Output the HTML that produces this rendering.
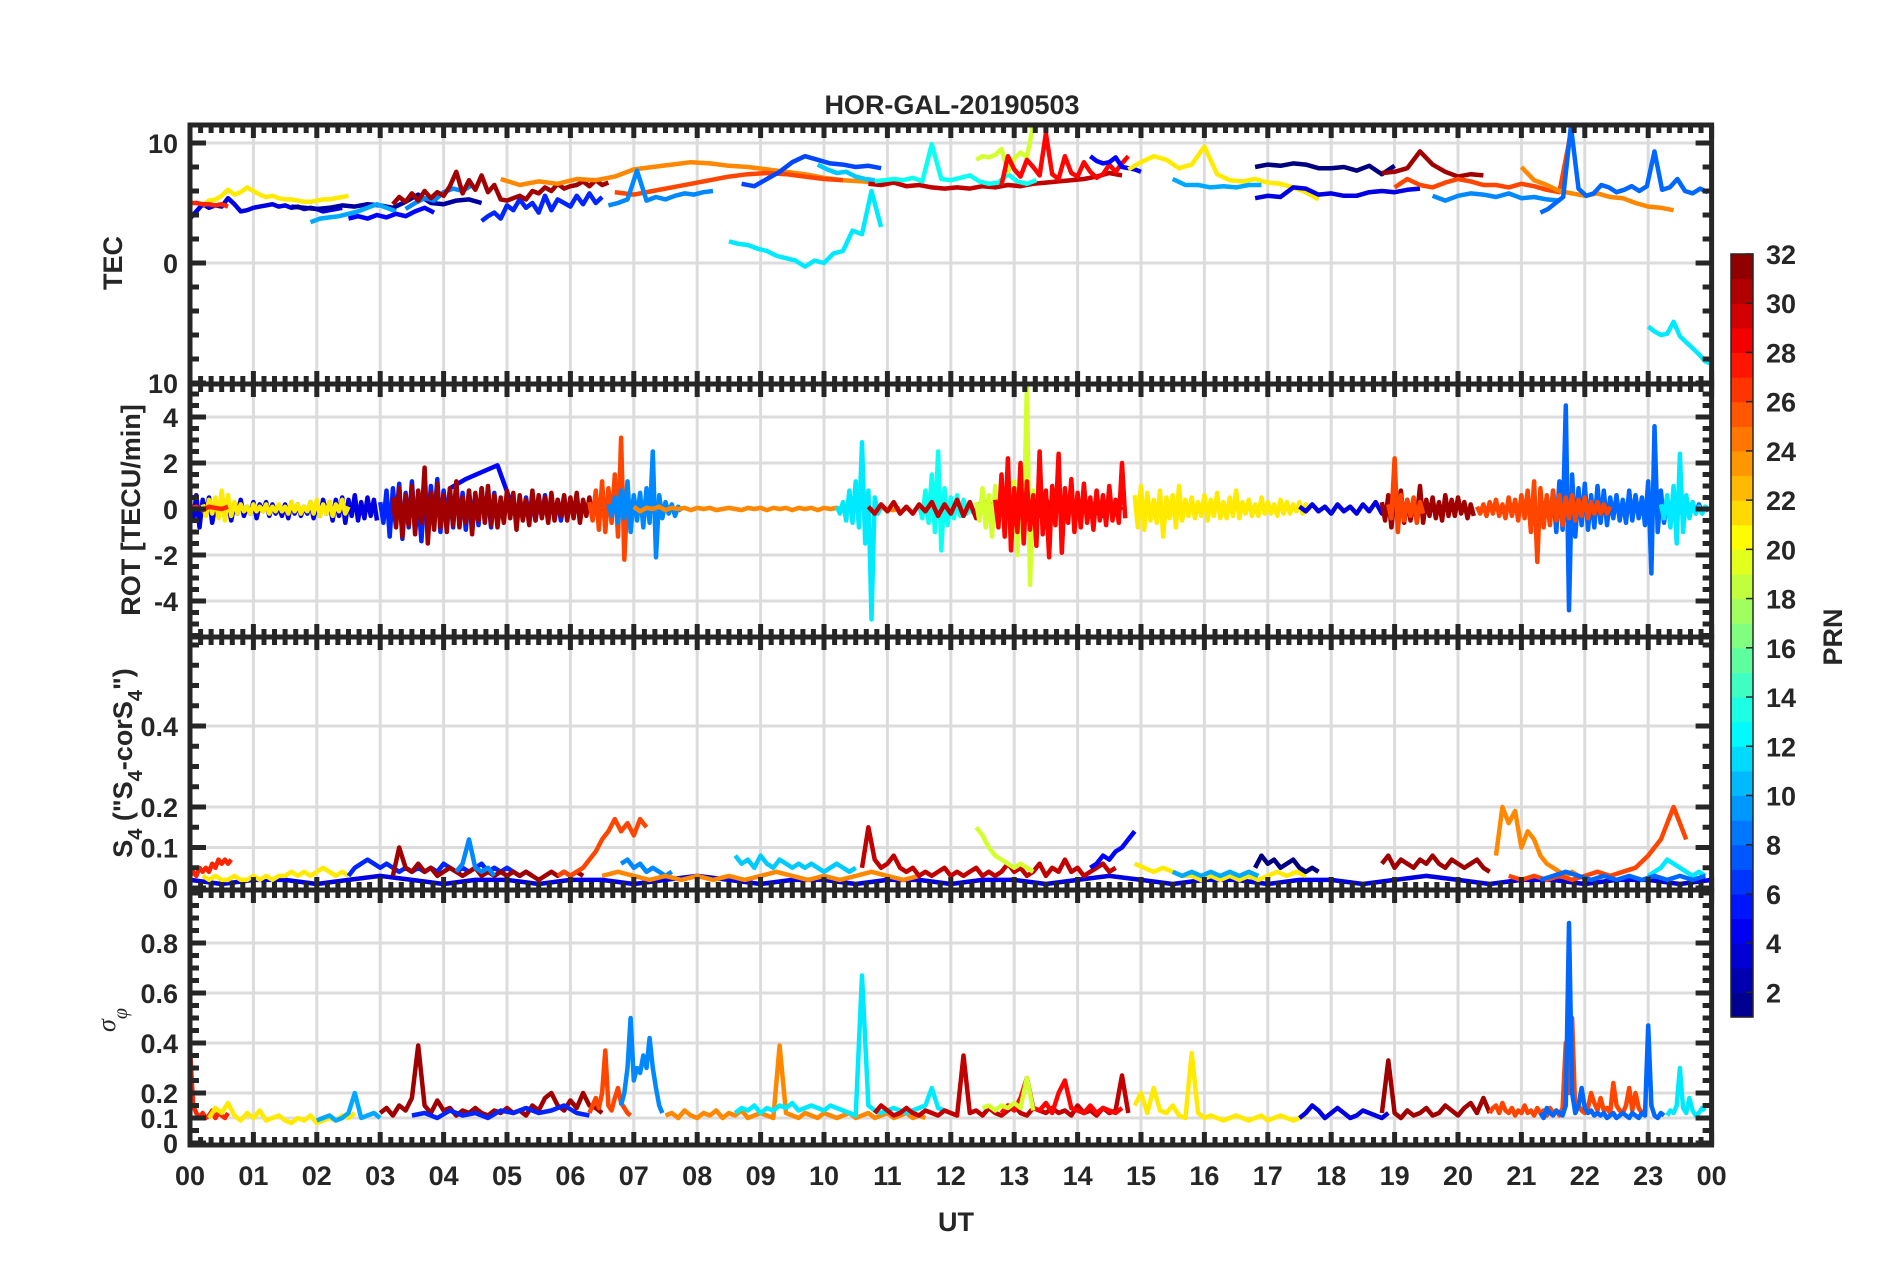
<!DOCTYPE html>
<html><head><meta charset="utf-8"><title>HOR-GAL-20190503</title>
<style>
html,body{margin:0;padding:0;background:#fff;}
svg{display:block;font-family:"Liberation Sans",Arial,sans-serif;}
</style></head>
<body>
<svg id="chart" width="1902" height="1272" viewBox="0 0 1902 1272" xmlns="http://www.w3.org/2000/svg">
<rect width="1902" height="1272" fill="#fff"/>
<text x="952" y="114" text-anchor="middle" font-weight="bold" font-size="27" fill="#262626">HOR-GAL-20190503</text>
<text x="956" y="1231" text-anchor="middle" font-weight="bold" font-size="27" fill="#262626">UT</text>
<text transform="translate(122,263) rotate(-90)" text-anchor="middle" font-weight="bold" font-size="27" fill="#262626">TEC</text>
<text transform="translate(140,510) rotate(-90)" text-anchor="middle" font-weight="bold" font-size="27" fill="#262626">ROT [TECU/min]</text>
<text transform="translate(132,763) rotate(-90)" text-anchor="middle" font-weight="bold" font-size="27" fill="#262626">S<tspan dy="10" font-size="20">4</tspan><tspan dy="-10"> ("S</tspan><tspan dy="10" font-size="20">4</tspan><tspan dy="-10">-corS</tspan><tspan dy="10" font-size="20">4</tspan><tspan dy="-10">")</tspan></text>
<text transform="translate(115,1020) rotate(-90)" text-anchor="middle" font-style="italic" font-size="26" fill="#262626" font-family="Liberation Serif, serif">σ<tspan dy="12" font-size="20">φ</tspan></text>
<text transform="translate(1842,637) rotate(-90)" text-anchor="middle" font-weight="bold" font-size="27" fill="#262626">PRN</text>
<g id="layers"></g>
</svg>
<script>
// ---------- TEC data ----------
const tecPrn=[4,21,27,2,10,9,5,6,31,24,26,9,7,12,11,30,13,19,28,5,21,10,1,4,31,26,9,24,8,12];
const tecT0=[0,0.2,0,1.6,1.9,3.4,2.5,4.6,3.2,4.9,6.7,6.6,8.7,8.5,9.9,10.7,10.8,12.4,12.8,14.2,14.8,15.5,16.8,16.8,18.8,19.0,19.6,21.0,21.3,23.0];
const tecDt=[0.1,0.1,0.1,0.2,0.15,0.15,0.15,0.1,0.1,0.3,0.3,0.15,0.2,0.15,0.15,0.2,0.15,0.1,0.1,0.1,0.2,0.2,0.2,0.2,0.2,0.2,0.2,0.2,0.12,0.1];
const tecVals=[
[3.7,4.3,4.9,4.6,4.8,4.7,5.4,4.9,4.3,4.4,4.6,4.7,4.8,4.9,4.7,4.8,4.6,4.7,4.5,4.6,4.5,4.3,4.4,4.5,4.6],
[4.8,5.2,5.3,5.6,6.1,5.7,5.9,6.3,6.0,5.7,5.5,5.6,5.4,5.3,5.3,5.2,5.1,5.1,5.2,5.3,5.3,5.4,5.5,5.6],
[5.0,5.0,4.9,4.9,4.8,4.9,4.7],
[4.7,4.6,4.5,4.6,4.8,4.7,4.9,4.8,4.6,5.1,5.7,5.0,4.9,5.2,5.3,5.0],
[3.4,3.7,3.8,3.9,4.1,4.3,4.6,4.9,4.6,4.3],
[4.5,5.0,5.4,5.2,5.9,6.2,6.0,6.5],
[3.7,3.9,3.7,4.0,3.8,4.1,3.9,4.3,4.6,4.2],
[3.5,3.9,4.2,3.7,4.8,4.4,5.3,4.6,5.0,4.2,5.6,4.4,5.3,5.0,4.7,5.6,4.9,5.8,5.0,5.5],
[4.9,5.5,5.1,5.8,5.2,6.0,5.4,5.9,5.6,6.4,7.6,5.8,6.9,6.1,7.3,5.9,6.5,5.3,5.2,5.4,5.6,5.3,6.0,5.8,6.3,6.0,6.6,6.2,6.4,6.5,6.8,6.4,6.9,6.5,6.7],
[7.0,6.5,6.8,6.6,7.0,6.9,7.2,7.8,8.0,8.2,8.4,8.3,8.1,8.0,7.8,7.6,7.4,7.1,6.9,6.8,6.7],
[5.9,5.7,6.0,6.3,6.6,6.9,7.2,7.4,7.5,7.4,7.2,7.0,6.9],
[4.8,5.0,5.3,7.7,5.2,5.5,5.3,5.6,5.8,5.7,5.9,6.0],
[6.6,6.4,7.0,7.6,8.4,8.9,8.6,8.3,8.2,8.0,8.1,7.9],
[1.8,1.6,1.5,1.2,1.0,0.6,0.4,0.2,-0.3,0.2,0.0,0.8,1.0,2.7,2.4,6.0,3.0],
[8.2,7.8,7.5,7.6,7.2,7.0,6.9],
[6.6,6.5,6.7,6.4,6.5,6.3,6.2,6.3,6.2,6.4,6.3,6.5,6.4,6.6,6.7,6.8,6.9,7.0,7.2,7.5,7.3],
[6.8,6.9,7.0,6.9,7.1,6.8,9.9,7.0,6.9,7.1,7.3,6.8,6.6,6.7,7.4,6.8,6.6,6.9],
[8.6,8.9,8.8,9.0,9.5,7.6,8.7,9.2,8.8,11.5],
[6.5,8.9,7.8,7.2,8.6,8.0,7.3,10.8,7.4,7.0,8.9,7.5,7.2,8.4,7.6,7.1,7.4,8.2,7.6,8.3,8.9],
[8.9,8.5,8.3,8.4,8.8,8.0,7.9,7.8,7.6],
[7.8,8.4,8.9,8.6,7.9,8.2,9.7,7.4,6.9,6.8,7.0,6.7,6.6,6.3,5.9,5.3],
[7.0,6.5,6.5,6.3,6.4,6.3,6.5,6.5],
[8.0,8.2,8.1,8.3,8.2,7.9,7.9,8.0,7.7,8.1,7.4,8.1],
[5.4,5.6,5.5,6.3,6.2,5.7,5.8,5.6,5.6,5.9,6.0,5.9,6.1,6.2],
[7.5,7.6,7.9,9.3,8.2,7.6,7.2,7.4,7.3],
[6.3,7.0,6.5,6.3,6.7,7.0,6.8,6.5,6.5,6.3,6.6,6.4,6.1,5.9,11.4],
[5.6,5.2,5.6,5.8,5.7,5.5,5.8,5.4,5.5,5.3,5.2],
[8.0,6.9,6.5,6.0,5.8,5.6,5.8,5.5,5.4,5.0,4.7,4.6,4.4],
[4.2,4.5,5.0,5.5,11.4,6.2,5.6,5.8,6.5,6.3,5.9,6.1,6.4,6.0,6.4,9.3,6.1,6.3,7.0,6.0,5.8,6.2,5.9],
[-5.3,-5.7,-6.0,-5.9,-4.9,-6.1,-6.6,-7.1,-7.6,-8.2,-8.4]
];
// ---------- ROT data ----------
const rotPrn=[4,21,27,6,5,31,26,9,24,12,13,30,19,28,21,4,31,26,8,26,12];
const rotT0=[0,0.2,0,3.0,4.1,3.2,6.3,6.6,7.0,10.2,11.5,10.7,12.4,12.7,14.9,17.5,18.8,18.9,21.3,20.3,23.2];
const rotDt=[0.05,0.05,0.1,0.05,0.25,0.05,0.05,0.05,0.1,0.05,0.05,0.1,0.05,0.05,0.05,0.1,0.05,0.05,0.05,0.05,0.05];
const rotVals=[
[0.3,-0.5,0.6,-0.8,0.4,-0.2,0.5,-0.6,0.2,-0.3,0.7,-0.4,0.3,-0.5,0.2,-0.2,0.4,-0.3,0.1,-0.2,0.3,-0.4,0.2,-0.1,0.3,-0.3,0.2,-0.2,0.1,-0.3,0.2,-0.4,0.3,-0.2,0.2,-0.3,0.1,-0.2,0.3,-0.4,0.2,-0.3,0.4,-0.2,0.3,-0.5,0.4,-0.3,0.5,-0.6,0.4,-0.3,0.6,-0.5,0.3,-0.4,0.5,-0.3,0.4,-0.5],
[0.2,-0.3,0.4,-0.2,0.5,-0.4,0.8,-0.5,0.6,-0.3,0.3,-0.2,0.2,-0.1,0.1,-0.2,0.2,-0.1,0.1,-0.1,0.2,-0.2,0.1,-0.1,0.2,-0.1,0.1,-0.2,0.3,-0.1,0.2,-0.2,0.1,-0.1,0.3,-0.2,0.4,-0.3,0.2,-0.2,0.3,-0.3,0.2,-0.1,0.4,-0.2,0.1],
[0.05,0.1,-0.05,0.1,0.05,0,0.1],
[0.3,-0.6,0.8,-1.2,0.9,-0.5,1.1,-1.3,0.7,-0.8,1.2,-0.9,0.5,-1.4,0.9,-0.7,1.0,-0.6,1.3,-1.0,0.8,-0.5,0.9,-0.8,1.0,-0.6,0.7,-0.9,0.8,-0.5,0.6,-0.7,0.9,-0.4,0.5,-0.8,0.7,-0.6,0.4,-0.5,0.6,-0.3,0.5,-0.6,0.4,-0.3,0.5,-0.4,0.3,-0.5,0.4,-0.3,0.6,-0.4,0.5,-0.3,0.4,-0.5,0.3,-0.2],
[0.9,1.3,1.6,1.9,0.0],
[0.5,-0.8,0.9,-1.2,0.6,-0.7,1.0,-1.1,0.8,-0.6,1.8,-1.5,0.7,-0.9,1.1,-0.8,0.6,-1.0,0.9,-0.7,1.2,-0.8,0.5,-0.6,0.8,-1.1,0.7,-0.5,0.9,-0.6,1.0,-0.7,0.6,-0.8,0.5,-0.6,0.8,-0.4,0.7,-0.9,0.6,-0.5,0.4,-0.7,0.8,-0.5,0.6,-0.4,0.5,-0.6,0.7,-0.5,0.4,-0.3,0.6,-0.5,0.5,-0.4,0.7,-0.6,0.4,-0.3,0.5,-0.4,0.6,-0.5,0.3,-0.4],
[0.3,-0.5,0.8,-0.9,1.2,-1.0,0.9,-0.6,1.5,-1.2,3.1,-2.2,0.6,-0.4,0.5,-0.3,0.4,-0.5,0.3,-0.2,0.2,-0.1,0.2,-0.2],
[0.2,-0.3,0.5,-0.6,0.8,-0.4,1.2,-1.0,0.6,-0.5,0.7,-0.8,0.9,-0.6,2.5,-2.1,0.6,-0.4,0.3,-0.2,0.2,-0.3,0.1,-0.1],
[0.1,-0.1,0.05,0,0.1,-0.05,0.05,0,0.05,-0.05,0.05,0,0.05,-0.05,0,0.05,0,-0.05,0.05,0,0.05,-0.05,0.05,0,0.05,-0.05,0.05,0,0.05,-0.05,0.05,0,0.05,-0.05,0.05,0,0.05,-0.05,0,0.05,0,-0.05,0.05],
[0.1,-0.2,0.3,-0.5,0.8,-0.6,1.2,-0.8,2.9,-1.5,0.8,-4.8,0.5,-0.2,0.1],
[0.2,-0.4,0.8,-0.6,1.5,-1.0,2.5,-1.8,0.9,-0.7,0.5,-0.4,0.6,-0.3,0.4,-0.2,0.3,-0.2],
[0.1,-0.2,0.2,-0.1,0.3,-0.2,0.1,-0.2,0.2,-0.1,0.3,-0.3,0.2,-0.2,0.4,-0.3,0.3,-0.4,0.5,-0.3,0.4,-0.3,0.5,-0.4,0.3,-0.2,0.4,-0.3,0.5,-0.4,0.3,-0.2,0.2,-0.3,0.3,-0.2,0.4,-0.3,0.2,-0.2,0.1],
[0.3,-0.5,0.9,-0.8,0.6,-1.2,1.0,-0.7,0.5,-1.0,0.8,-1.5,1.2,-2.0,0.7,-1.1,5.5,-3.3,0.8,-0.6],
[0.4,-0.8,1.5,-1.2,2.2,-1.8,0.9,-1.0,2.0,-1.5,1.2,-0.9,0.6,-1.6,2.5,-1.1,0.8,-2.1,1.0,-0.7,2.4,-1.9,0.9,-0.6,1.3,-1.0,0.7,-0.8,1.1,-0.6,0.5,-0.9,0.8,-0.5,0.6,-0.7,1.0,-0.5,0.4,-0.6,2.0,-0.4],
[0.6,-0.8,1.0,-0.9,0.7,-0.5,0.4,-0.6,0.8,-1.2,0.5,-0.4,0.6,-0.8,1.0,-0.5,0.4,-0.3,0.5,-0.4,0.3,-0.3,0.6,-0.5,0.4,-0.3,0.7,-0.4,0.3,-0.4,0.5,-0.3,0.8,-0.4,0.3,-0.2,0.4,-0.3,0.2,-0.3,0.5,-0.2,0.3,-0.2,0.2,-0.3,0.4,-0.2,0.3,-0.2,0.2,-0.1,0.3,-0.2,0.2,-0.1],
[0.1,-0.1,0.2,-0.1,0.1,-0.2,0.2,-0.1,0.1,-0.2,0.2,-0.1,0.3,-0.2,0.2,-0.1,0.1],
[0.3,-0.5,0.6,-0.8,0.5,-0.4,0.8,-0.6,0.4,-0.5,0.3,-0.4,1.0,-0.6,0.4,-0.3,0.5,-0.4,0.3,-0.5,0.6,-0.3,0.4,-0.3,0.5,-0.2,0.3,-0.4,0.2,-0.3],
[0.2,-0.4,2.2,-1.0,0.6,-0.5,0.4,-0.3,0.5,-0.6,0.3,-0.2],
[0.2,-0.3,0.5,-0.6,0.8,-1.0,1.2,-0.9,4.5,-4.4,1.5,-1.2,0.9,-0.7,1.1,-0.9,0.6,-0.8,1.0,-0.6,0.8,-0.7,0.5,-0.4,0.6,-0.5,0.4,-0.6,0.8,-0.5,0.6,-0.4,0.5,-0.7,1.2,-2.8,3.6,-1.0,0.8,-0.6,0.5,-0.4,0.6,-0.3,0.4,-0.3,0.5,-0.2,0.3,-0.2,0.2,-0.1,0.1,-0.1],
[0.1,-0.2,0.2,-0.3,0.3,-0.2,0.4,-0.3,0.2,-0.4,0.5,-0.3,0.4,-0.5,0.6,-0.4,0.8,-1.0,1.2,-2.3,0.9,-0.8,0.6,-0.7,0.8,-0.5,0.6,-0.7,0.5,-0.4,0.6,-0.5,0.4,-0.3,0.5,-0.4,0.3,-0.2,0.3,-0.2,0.2,-0.2,0.1],
[0.2,-0.4,0.6,-0.8,1.0,-1.5,2.4,-1.0,0.6,-0.4,0.3,-0.2,0.1,-0.2,0.1,0]
];
// ---------- S4 data ----------
const s4Prn=[4,27,21,6,31,9,26,9,11,24,30,19,5,21,10,1,31,24,26,12,8];
const s4T0=[0,0,0.2,2.5,3.2,4.2,5.8,6.8,8.6,6.5,10.6,12.4,14.2,14.9,15.5,16.8,18.8,20.6,20.8,23.0,21.3];
const s4Dt=[0.5,0.05,0.1,0.1,0.1,0.1,0.1,0.1,0.1,0.25,0.1,0.1,0.1,0.15,0.15,0.1,0.1,0.1,0.2,0.1,0.2];
const s4Vals=[
[0.02,0.01,0.02,0.02,0.01,0.02,0.03,0.02,0.01,0.02,0.02,0.01,0.02,0.02,0.01,0.02,0.03,0.02,0.01,0.02,0.02,0.01,0.02,0.02,0.01,0.02,0.02,0.01,0.02,0.03,0.02,0.01,0.02,0.02,0.01,0.02,0.02,0.01,0.02,0.03,0.02,0.01,0.02,0.02,0.01,0.02,0.02,0.01,0.02],
[0.03,0.04,0.03,0.05,0.04,0.05,0.04,0.06,0.05,0.07,0.06,0.07,0.06,0.07],
[0.03,0.02,0.03,0.02,0.02,0.03,0.02,0.02,0.03,0.02,0.03,0.02,0.03,0.03,0.04,0.03,0.04,0.03,0.04,0.05,0.04,0.03,0.04,0.03],
[0.03,0.05,0.06,0.07,0.06,0.05,0.06,0.05,0.04,0.05,0.04,0.05,0.04,0.05,0.04,0.06,0.05,0.04,0.05,0.04,0.05,0.06,0.04,0.05,0.04,0.05,0.04,0.03,0.04,0.03],
[0.03,0.1,0.05,0.04,0.06,0.04,0.05,0.03,0.04,0.05,0.04,0.03,0.04,0.05,0.03,0.04,0.03,0.04,0.03,0.04,0.03,0.04,0.03,0.02,0.03,0.04,0.03,0.04,0.03,0.04,0.03],
[0.04,0.06,0.12,0.05,0.04,0.05,0.03],
[0.03,0.04,0.03,0.04,0.05,0.07,0.09,0.12,0.14,0.17,0.14,0.16,0.13,0.17,0.15],
[0.06,0.07,0.05,0.06,0.04,0.05,0.04,0.03,0.04],
[0.08,0.06,0.07,0.05,0.08,0.06,0.05,0.07,0.06,0.05,0.06,0.05,0.06,0.05,0.04,0.05,0.06,0.05,0.04,0.05],
[0.03,0.04,0.03,0.02,0.03,0.02,0.03,0.02,0.03,0.02,0.03,0.04,0.03,0.02,0.03,0.02,0.03,0.04,0.03,0.02,0.03],
[0.05,0.15,0.07,0.05,0.06,0.08,0.05,0.04,0.05,0.03,0.04,0.03,0.04,0.05,0.03,0.04,0.03,0.04,0.05,0.03,0.04,0.03,0.04,0.06,0.04,0.05,0.03,0.04,0.06,0.03,0.05,0.04,0.07,0.04,0.05,0.03,0.04,0.05,0.06,0.04,0.05],
[0.15,0.13,0.1,0.08,0.07,0.06,0.05,0.06,0.05,0.04],
[0.05,0.06,0.08,0.07,0.09,0.1,0.12,0.14],
[0.06,0.05,0.04,0.05,0.04,0.03,0.03,0.02,0.03,0.02,0.03,0.02,0.03,0.02,0.03,0.04,0.03,0.04,0.03],
[0.04,0.03,0.04,0.03,0.04,0.03,0.04,0.03,0.04,0.03],
[0.05,0.08,0.06,0.07,0.05,0.06,0.07,0.05,0.04,0.05,0.04],
[0.06,0.08,0.05,0.07,0.06,0.05,0.07,0.06,0.08,0.06,0.05,0.07,0.06,0.05,0.06,0.07,0.05,0.04],
[0.08,0.2,0.16,0.19,0.1,0.14,0.12,0.08,0.06,0.05,0.04,0.03,0.04,0.03],
[0.03,0.02,0.03,0.02,0.03,0.02,0.03,0.04,0.03,0.04,0.05,0.08,0.12,0.2,0.12],
[0.03,0.04,0.05,0.07,0.06,0.05,0.04,0.03,0.04,0.03],
[0.02,0.03,0.04,0.03,0.02,0.03,0.02,0.03,0.02,0.03,0.02,0.03,0.02,0.03]
];
// ---------- Sigma-phi data ----------
const sigPrn=[27,21,10,31,6,26,9,24,12,30,28,19,21,4,31,26,8,12];
const sigT0=[0,0.3,2.0,3.0,3.5,6.3,6.8,7.5,8.6,10.8,12.8,12.5,14.9,17.5,18.8,20.5,21.3,23.3];
const sigDt=[0.05,0.1,0.1,0.1,0.2,0.05,0.05,0.1,0.1,0.1,0.1,0.1,0.1,0.1,0.1,0.05,0.05,0.05];
const sigVals=[
[0.38,0.15,0.12,0.1,0.12,0.1,0.11,0.13,0.1,0.12,0.11,0.1,0.12],
[0.1,0.14,0.12,0.16,0.11,0.09,0.12,0.1,0.13,0.09,0.1,0.11,0.09,0.08,0.1,0.09,0.11,0.08,0.09,0.1,0.09,0.11,0.1,0.12],
[0.09,0.1,0.11,0.09,0.1,0.12,0.2,0.1,0.11,0.12,0.1],
[0.12,0.14,0.11,0.15,0.13,0.18,0.39,0.15,0.12,0.17,0.13,0.14,0.11,0.13,0.12,0.14,0.12,0.11,0.13,0.12,0.14,0.12,0.13,0.11,0.15,0.13,0.18,0.2,0.15,0.13,0.17,0.14,0.2,0.15,0.14,0.12],
[0.11,0.12,0.1,0.13,0.11,0.12,0.1,0.13,0.12,0.14,0.12,0.13,0.15,0.12,0.11],
[0.12,0.15,0.18,0.14,0.2,0.37,0.15,0.13,0.18,0.22,0.16,0.14,0.12,0.11],
[0.15,0.2,0.3,0.5,0.25,0.3,0.28,0.35,0.3,0.42,0.3,0.22,0.15,0.12],
[0.11,0.12,0.1,0.13,0.11,0.1,0.12,0.11,0.13,0.1,0.12,0.11,0.13,0.1,0.11,0.12,0.11,0.1,0.39,0.12,0.11,0.1,0.12,0.11,0.1,0.12,0.11,0.1,0.11,0.12,0.1,0.11,0.12,0.1,0.11,0.12,0.1,0.11,0.12,0.1,0.11,0.1],
[0.12,0.14,0.13,0.15,0.12,0.14,0.13,0.15,0.14,0.16,0.13,0.14,0.15,0.14,0.13,0.15,0.14,0.13,0.12,0.11,0.67,0.15,0.13,0.12,0.13,0.14,0.13,0.12,0.13,0.14,0.15,0.22,0.14,0.13],
[0.12,0.15,0.13,0.11,0.12,0.14,0.12,0.11,0.13,0.12,0.11,0.13,0.12,0.11,0.35,0.12,0.13,0.11,0.14,0.12,0.11,0.13,0.15,0.12,0.11,0.14,0.13,0.12,0.14,0.12,0.13,0.11,0.15,0.12,0.13,0.11,0.14,0.12,0.13,0.27,0.12],
[0.12,0.15,0.13,0.18,0.26,0.14,0.13,0.16,0.12,0.2,0.25,0.14,0.13,0.12,0.15,0.12,0.14,0.13,0.12,0.14],
[0.14,0.15,0.13,0.15,0.14,0.16,0.14,0.26,0.13],
[0.15,0.2,0.12,0.22,0.13,0.12,0.15,0.11,0.1,0.36,0.12,0.1,0.11,0.1,0.09,0.1,0.11,0.1,0.09,0.1,0.11,0.09,0.1,0.11,0.1,0.09,0.1,0.11],
[0.1,0.12,0.15,0.13,0.1,0.12,0.14,0.12,0.1,0.11,0.13,0.12,0.11,0.1,0.12],
[0.12,0.33,0.12,0.1,0.13,0.11,0.12,0.14,0.11,0.12,0.15,0.13,0.11,0.14,0.16,0.12,0.18,0.12],
[0.12,0.14,0.15,0.12,0.16,0.13,0.12,0.14,0.11,0.13,0.12,0.15,0.12,0.13,0.11,0.14,0.12,0.13,0.11,0.14,0.12,0.13,0.11,0.14,0.4,0.2,0.5,0.12,0.15,0.13,0.12,0.14,0.2,0.16,0.13,0.18,0.13,0.14,0.12,0.24,0.15,0.13,0.12,0.15,0.22,0.13,0.2,0.14,0.12,0.13],
[0.12,0.1,0.14,0.12,0.11,0.13,0.12,0.11,0.15,0.88,0.2,0.12,0.15,0.22,0.14,0.12,0.13,0.11,0.12,0.11,0.12,0.1,0.11,0.12,0.1,0.11,0.12,0.11,0.1,0.12,0.11,0.1,0.12,0.11,0.47,0.15,0.11,0.1,0.12,0.11],
[0.11,0.13,0.12,0.15,0.3,0.14,0.12,0.18,0.13,0.11,0.12,0.14,0.13]
];
// ---------- axis / tick labels ----------
const hourLabels=["00","01","02","03","04","05","06","07","08","09","10","11","12","13","14","15","16","17","18","19","20","21","22","23","00"];
const tecTicks=[10,0,-10];
const tecTickLabels=["10","0","10"];
const rotTicks=[4,2,0,-2,-4];
const s4Ticks=[0.4,0.2,0.1,0];
const sigTicks=[0.8,0.6,0.4,0.2,0.1,0];
const cbTicks=[2,4,6,8,10,12,14,16,18,20,22,24,26,28,30,32];

const NS="http://www.w3.org/2000/svg";
const svg=document.getElementById('layers');
const X0=190, HR=63.4, XR=X0+24*HR;
function xs(t){return X0+t*HR;}
const panels=[
 {name:'tec',top:125,bot:384,y:v=>263-12*v,grid:[10,0],minor:{a:-10,b:11.5,s:2},ticks:tecTicks,labels:tecTickLabels,prn:tecPrn,t0:tecT0,dt:tecDt,vals:tecVals},
 {name:'rot',top:384,bot:637,y:v=>509-23*v,grid:[4,2,-2,-4],minor:{a:-5.5,b:5.5,s:0.5},ticks:rotTicks,labels:rotTicks.map(String),prn:rotPrn,t0:rotT0,dt:rotDt,vals:rotVals},
 {name:'s4',top:637,bot:890,y:v=>888-405*v,grid:[0.4,0.2,0.1],minor:{a:0,b:0.62,s:0.05},ticks:s4Ticks,labels:s4Ticks.map(String),prn:s4Prn,t0:s4T0,dt:s4Dt,vals:s4Vals},
 {name:'sigma',top:890,bot:1145,y:v=>1143-250*v,grid:[0.8,0.6,0.4,0.2,0.1],minor:{a:0,b:1,s:0.05},ticks:sigTicks,labels:sigTicks.map(String),prn:sigPrn,t0:sigT0,dt:sigDt,vals:sigVals}
];
function jet(p){
 const v=(p-1)/31;
 const c=x=>Math.round(255*Math.max(0,Math.min(1,1.5-Math.abs(4*v-x))));
 return 'rgb('+c(3)+','+c(2)+','+c(1)+')';
}
function mk(tag,attrs,parent){
 const e=document.createElementNS(NS,tag);
 for(const k in attrs) e.setAttribute(k,attrs[k]);
 (parent||svg).appendChild(e);
 return e;
}
const defs=mk('defs',{});
panels.forEach((P,pi)=>{
 const g=mk('g',{});
 
 
 const cp=mk('clipPath',{id:'clip'+pi},defs);
 mk('rect',{x:X0,y:P.top,width:XR-X0,height:P.bot-P.top},cp);
 for(let h=1;h<24;h++){
  const gl=mk('line',{x1:xs(h),x2:xs(h),y1:P.top,y2:P.bot,stroke:'#dcdcdc','stroke-width':3},g);
  
  
 }
 P.grid.forEach(v=>{
  const gl=mk('line',{x1:X0,x2:XR,y1:P.y(v),y2:P.y(v),stroke:'#dcdcdc','stroke-width':3},g);
  
  
 });
 const dg=mk('g',{'clip-path':'url(#clip'+pi+')'},g);
 
 
 P.vals.forEach((vals,si)=>{
  const pts=vals.map((v,i)=>xs(P.t0[si]+i*P.dt[si]).toFixed(1)+','+P.y(v).toFixed(1)).join(' ');
  const pl=mk('polyline',{points:pts,fill:'none',stroke:jet(P.prn[si]),'stroke-width':4.5,'stroke-linejoin':'round'},dg);
  
  
 });
 const bx=mk('rect',{x:X0,y:P.top,width:XR-X0,height:P.bot-P.top,fill:'none',stroke:'#262626','stroke-width':5},g);
 
 
 let d='';
 for(let k=0;k<=144;k++){
  const x=xs(k/6), L=(k%6===0)?13:8;
  d+='M'+x.toFixed(1)+' '+P.top+'v'+L+'M'+x.toFixed(1)+' '+P.bot+'v'+(-L);
 }
 for(let v=P.minor.a;v<=P.minor.b+1e-9;v+=P.minor.s){
  const y=P.y(v);
  if(y<P.top-1||y>P.bot+1)continue;
  d+='M'+X0+' '+y.toFixed(1)+'h9M'+XR+' '+y.toFixed(1)+'h-9';
 }
 P.ticks.forEach(v=>{const y=P.y(v);d+='M'+X0+' '+y.toFixed(1)+'h16M'+XR+' '+y.toFixed(1)+'h-16';});
 const tk=mk('path',{d:d,stroke:'#262626','stroke-width':5,fill:'none'},g);
 
 
 P.ticks.forEach((v,i)=>{
  const t=mk('text',{x:178,y:(P.y(v)+10).toFixed(1),'text-anchor':'end','font-weight':'bold','font-size':27,fill:'#262626'},g);
  t.textContent=P.labels[i];
  
  
 });
});
hourLabels.forEach((s,i)=>{
 const t=mk('text',{x:xs(i),y:1185,'text-anchor':'middle','font-weight':'bold','font-size':27,fill:'#262626'});
 t.textContent=s;
 
 
});
const cb=mk('g',{});


const CT=254,CB=1017,CX=1731,CW=22;
const cy=v=>CB-(v-1)*(CB-CT)/31;
for(let k=1;k<=31;k++){
 const r=mk('rect',{x:CX,y:cy(k+1).toFixed(1),width:CW,height:((CB-CT)/31+0.6).toFixed(1),fill:jet(k+0.5)},cb);
 
 
}
const cbx=mk('rect',{x:CX,y:CT,width:CW,height:CB-CT,fill:'none',stroke:'#262626','stroke-width':1.5},cb);


cbTicks.forEach(v=>{
 const y=cy(v);
 const l=mk('line',{x1:CX+CW-7,x2:CX+CW,y1:y,y2:y,stroke:'#262626','stroke-width':1.5},cb);
 
 
 const t=mk('text',{x:1766,y:(y+10).toFixed(1),'font-weight':'bold','font-size':27,fill:'#262626'},cb);
 t.textContent=String(v);
 
 
});
</script>
</body></html>
